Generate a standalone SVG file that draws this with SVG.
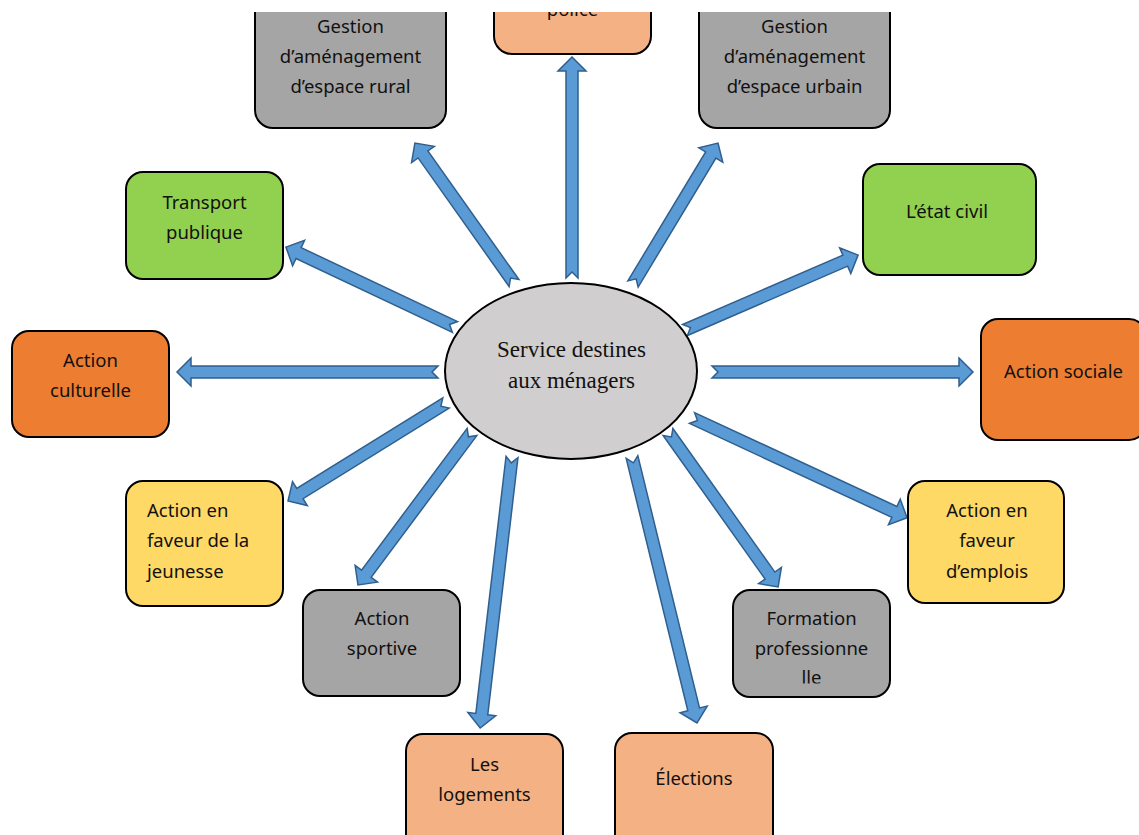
<svg xmlns="http://www.w3.org/2000/svg" width="1139" height="835" viewBox="0 0 1139 835">
<style>
.box{stroke:#000;stroke-width:2}
.gray{fill:#A5A5A5}.green{fill:#92D050}.orange{fill:#ED7D31}.yellow{fill:#FFD966}.salmon{fill:#F4B183}
.t{font-family:"Noto Sans","Open Sans",sans-serif;font-size:18.5px;fill:#111;text-anchor:middle}
.ts{text-anchor:start}
.arr path{fill:#5B9BD5;stroke:#2F5F8F;stroke-width:1.5;stroke-linejoin:miter}
.center{fill:#D0CECE;stroke:#000;stroke-width:2}
.ct{font-family:"Liberation Serif","Times New Roman",serif;font-size:23px;fill:#111;text-anchor:middle}
</style>
<defs>
<clipPath id="page"><rect x="0" y="12" width="1139" height="823"/></clipPath>
<clipPath id="fclip"><rect x="733" y="590" width="157" height="93.5"/></clipPath>
</defs>
<rect width="1139" height="835" fill="#fff"/>
<g clip-path="url(#page)">
<g id="connectors" class="arr">
<path transform="translate(572,278) rotate(-90)" d="M0,-6 H207 V-14 L221,0 L207,14 V6 H0 L6,0 Z"/>
<path transform="translate(514,283) rotate(-125.3)" d="M0,-6 H157.5 V-14 L171.5,0 L157.5,14 V6 H0 L6,0 Z"/>
<path transform="translate(633,284) rotate(-58.9)" d="M0,-6 H150.6 V-14 L164.6,0 L150.6,14 V6 H0 L6,0 Z"/>
<path transform="translate(455,327) rotate(-154.7)" d="M0,-6 H173 V-14 L187,0 L173,14 V6 H0 L6,0 Z"/>
<path transform="translate(438,372) rotate(180)" d="M0,-6 H247 V-14 L261,0 L247,14 V6 H0 L6,0 Z"/>
<path transform="translate(446,403) rotate(148.2)" d="M0,-6 H171.9 V-14 L185.9,0 L171.9,14 V6 H0 L6,0 Z"/>
<path transform="translate(472,432) rotate(126.7)" d="M0,-6 H176.8 V-14 L190.8,0 L176.8,14 V6 H0 L6,0 Z"/>
<path transform="translate(512,457) rotate(96.7)" d="M0,-6 H258.9 V-14 L272.9,0 L258.9,14 V6 H0 L6,0 Z"/>
<path transform="translate(632,457) rotate(76.27)" d="M0,-6 H259.8 V-14 L273.8,0 L259.8,14 V6 H0 L6,0 Z"/>
<path transform="translate(668,432) rotate(54.6)" d="M0,-6 H176.1 V-14 L190.1,0 L176.1,14 V6 H0 L6,0 Z"/>
<path transform="translate(692,418) rotate(24.9)" d="M0,-6 H223.1 V-14 L237.1,0 L223.1,14 V6 H0 L6,0 Z"/>
<path transform="translate(685,330) rotate(-23.4)" d="M0,-6 H174.6 V-14 L188.6,0 L174.6,14 V6 H0 L6,0 Z"/>
<path transform="translate(712,372)" d="M0,-6 H247 V-14 L261,0 L247,14 V6 H0 L6,0 Z"/>
</g>
<g id="center">
<ellipse class="center" cx="571" cy="371" rx="126" ry="88"/>
<text class="ct" x="571.5" y="357">Service destines</text>
<text class="ct" x="571.5" y="388">aux ménagers</text>
</g>
<g id="rural">
<rect class="box gray" x="255" y="-40" width="191" height="168" rx="18"/>
<text class="t" x="350.5" y="33">Gestion</text>
<text class="t" x="350.5" y="63">d’aménagement</text>
<text class="t" x="350.5" y="93">d’espace rural</text>
</g>
<g id="police">
<rect class="box salmon" x="494" y="-60" width="157" height="114" rx="18"/>
<text class="t" x="572.5" y="16">police</text>
</g>
<g id="urbain">
<rect class="box gray" x="699" y="-40" width="191" height="168" rx="18"/>
<text class="t" x="794.5" y="33">Gestion</text>
<text class="t" x="794.5" y="63">d’aménagement</text>
<text class="t" x="794.5" y="93">d’espace urbain</text>
</g>
<g id="transport">
<rect class="box green" x="126" y="172" width="157" height="107" rx="17"/>
<text class="t" x="204.5" y="209">Transport</text>
<text class="t" x="204.5" y="239">publique</text>
</g>
<g id="etatcivil">
<rect class="box green" x="863" y="164" width="173" height="111" rx="17"/>
<text class="t" x="947" y="218">L’état civil</text>
</g>
<g id="culturelle">
<rect class="box orange" x="12" y="331" width="157" height="106" rx="17"/>
<text class="t" x="90.5" y="367">Action</text>
<text class="t" x="90.5" y="397">culturelle</text>
</g>
<g id="sociale">
<rect class="box orange" x="981" y="319" width="165" height="121" rx="17"/>
<text class="t" x="1063.5" y="378">Action sociale</text>
</g>
<g id="jeunesse">
<rect class="box yellow" x="126" y="481" width="157" height="125" rx="17"/>
<text class="t ts" x="147" y="517">Action en</text>
<text class="t ts" x="147" y="547">faveur de la</text>
<text class="t ts" x="147" y="578">jeunesse</text>
</g>
<g id="emplois">
<rect class="box yellow" x="908" y="481" width="156" height="122" rx="17"/>
<text class="t" x="987" y="517">Action en</text>
<text class="t" x="987" y="547">faveur</text>
<text class="t" x="987" y="578">d’emplois</text>
</g>
<g id="sportive">
<rect class="box gray" x="303" y="590" width="157" height="106" rx="17"/>
<text class="t" x="382" y="625">Action</text>
<text class="t" x="382" y="655">sportive</text>
</g>
<g id="formation">
<rect class="box gray" x="733" y="590" width="157" height="107" rx="17"/>
<g clip-path="url(#fclip)">
<text class="t" x="811.5" y="625">Formation</text>
<text class="t" x="811.5" y="654.5">professionne</text>
<text class="t" x="811.5" y="684">lle</text>
</g>
</g>
<g id="logements">
<rect class="box salmon" x="406" y="734" width="157" height="130" rx="17"/>
<text class="t" x="484.5" y="771">Les</text>
<text class="t" x="484.5" y="801">logements</text>
</g>
<g id="elections">
<rect class="box salmon" x="615" y="733" width="158" height="130" rx="17"/>
<text class="t" x="694" y="785">Élections</text>
</g>
</g>
</svg>
